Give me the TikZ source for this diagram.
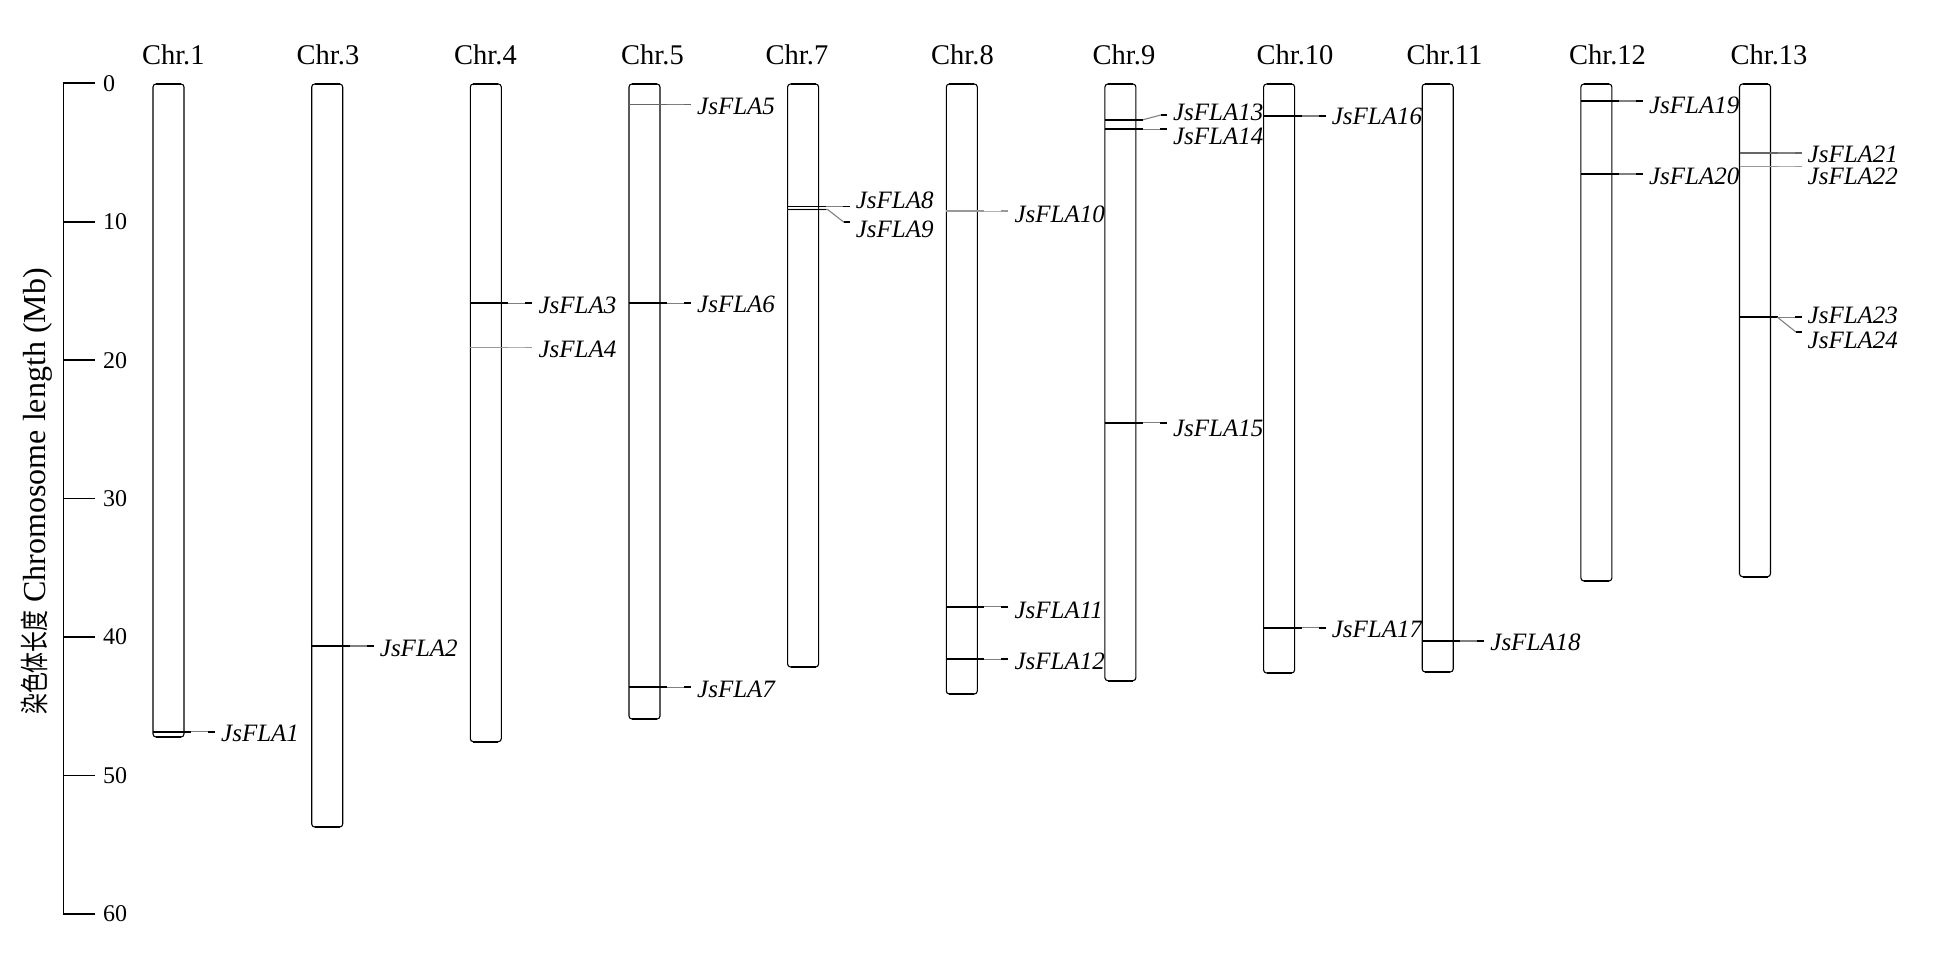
\documentclass[tikz,border=0pt]{standalone}
\usepackage{fontspec}
\setmainfont{Liberation Serif}
\newfontfamily\cjk{Noto Sans CJK SC}
\newcommand\chrom[5]{%
  \node[chr, minimum height=#3pt] (#1) at (#2,84) {};
  \draw[line width=2.2pt] ([xshift=3pt]#1.north west) -- ([xshift=-3pt]#1.north east);
  \draw[line width=2.2pt] ([xshift=3pt]#1.south west) -- ([xshift=-3pt]#1.south east);
  \node[chrlab] (#1t) at (#4,65) {#5};
}
\newcommand\genemark[7]{%
  \coordinate (#1s) at (#2,#3);
  \coordinate (#1e) at (#2+62,#3);
  \draw[#7] (#1s) -- (#1e);
  \draw[#6] (#1s) -- ++(38,0);
  \draw[#6] (#1e) -- ++(-7,0);
  \node[glabel] (#1) at (#2+68,#4) {#5};
}
\begin{document}
\begin{tikzpicture}[x=1pt,y=-1pt,
  chr/.style={draw=black, line width=1.1pt, rounded corners=3pt, inner sep=0pt, outer sep=0pt, minimum width=31pt, anchor=north west},
  chrlab/.style={anchor=base, inner sep=0pt, font=\fontsize{28.5}{30}\selectfont},
  glabel/.style={anchor=west, inner sep=0pt, font=\fontsize{25}{27}\selectfont\itshape},
  ticklab/.style={anchor=west, inner sep=0pt, font=\fontsize{24}{26}\selectfont},
  dk/.style={black, line width=1.8pt},
  dkt/.style={black, line width=1.3pt},
  md/.style={black!60, line width=1.4pt},
  lt/.style={black!40, line width=1.1pt},
  cn/.style={black!50, line width=1.1pt},
  cnl/.style={black!30, line width=1pt},
]
\useasboundingbox (0,0) rectangle (1933,966);

% axis
\coordinate (a0) at (63.3,83.3);
\coordinate (a60) at (63.3,914);
\draw[line width=1.1pt] (a0) -- (a60);
\foreach \k in {0,...,6} {
  \draw[line width=1.6pt] (63.3,83.3+138.45*\k) -- ++(31.7,0);
  \node[ticklab] (t\k) at (103,83.3+138.45*\k) {\the\numexpr\k*10\relax};
}
\node[rotate=90, anchor=base west, inner sep=0pt, font=\fontsize{32}{34}\selectfont] (ytitle) at (45,715)
  {\scalebox{0.72}[1]{\cjk\fontsize{29}{31}\selectfont 染色体长度} Chromosome length (Mb)};

% chromosomes
\chrom{c1}{153}{653}{173.3}{Chr.1}
\chrom{c3}{311.7}{743}{328}{Chr.3}
\chrom{c4}{470.3}{657.7}{485.5}{Chr.4}
\chrom{c5}{629}{635}{652.5}{Chr.5}
\chrom{c7}{787.6}{583}{797}{Chr.7}
\chrom{c8}{946.3}{610}{962.5}{Chr.8}
\chrom{c9}{1104.9}{596.7}{1124}{Chr.9}
\chrom{c10}{1263.6}{589}{1295}{Chr.10}
\chrom{c11}{1422.2}{588}{1444.5}{Chr.11}
\chrom{c12}{1580.9}{497}{1607.5}{Chr.12}
\chrom{c13}{1739.5}{492.7}{1769}{Chr.13}

% genes
\genemark{g1}{153}{731.7}{733.3}{JsFLA1}{dk}{cn}
\genemark{g2}{311.7}{646}{648.3}{JsFLA2}{dk}{cn}
\genemark{g3}{470.3}{303.3}{305}{JsFLA3}{dk}{cn}
\genemark{g4}{470.3}{347.3}{349.3}{JsFLA4}{lt}{cnl}
\genemark{g5}{629}{104.3}{106.7}{JsFLA5}{md}{cn}
\genemark{g6}{629}{303.3}{304}{JsFLA6}{dk}{cn}
\genemark{g7}{629}{687.3}{689.3}{JsFLA7}{dk}{cn}
\genemark{g8}{787.6}{206.7}{200.7}{JsFLA8}{dkt}{cn}
% JsFLA9
\coordinate (g9s) at (787.6,209.5);
\coordinate (g9e) at (787.6+62,222);
\draw[cn] (g9s) -- ++(40,0) -- (787.6+56,222) -- (g9e);
\draw[dkt] (g9s) -- ++(38,0);
\draw[dkt] (g9e) -- ++(-6,0);
\node[glabel] (g9) at (787.6+68,229) {JsFLA9};
\genemark{g10}{946.3}{211}{214}{JsFLA10}{lt}{cnl}
\genemark{g11}{946.3}{606.7}{610}{JsFLA11}{dk}{cn}
\genemark{g12}{946.3}{659.3}{661.7}{JsFLA12}{dk}{cn}
% JsFLA13
\coordinate (g13s) at (1104.9,120);
\coordinate (g13e) at (1104.9+62,115);
\draw[cn] (g13s) -- ++(37,0) -- (1104.9+56,115) -- (g13e);
\draw[dk] (g13s) -- ++(38,0);
\draw[dk] (g13e) -- ++(-6,0);
\node[glabel] (g13) at (1104.9+68,112) {JsFLA13};
\genemark{g14}{1104.9}{129.3}{136.7}{JsFLA14}{dk}{cn}
\genemark{g15}{1104.9}{422.7}{428.3}{JsFLA15}{dk}{cn}
\genemark{g16}{1263.6}{116}{116}{JsFLA16}{dk}{cn}
\genemark{g17}{1263.6}{627.7}{629.3}{JsFLA17}{dk}{cn}
\genemark{g18}{1422.2}{641}{642.7}{JsFLA18}{dk}{cn}
\genemark{g19}{1580.9}{101}{105}{JsFLA19}{dk}{cn}
\genemark{g20}{1580.9}{174}{176.7}{JsFLA20}{dk}{cn}
\genemark{g21}{1739.5}{153}{154}{JsFLA21}{md}{cn}
\genemark{g22}{1739.5}{166.7}{176.7}{JsFLA22}{lt}{cnl}
\genemark{g23}{1739.5}{317.3}{315.7}{JsFLA23}{dk}{cn}
% JsFLA24
\coordinate (g24s) at (1739.5+38,317.3);
\coordinate (g24e) at (1739.5+62,331.7);
\draw[cn] (g24s) -- (1739.5+56,331.7) -- (g24e);
\draw[dk] (g24e) -- ++(-6,0);
\node[glabel] (g24) at (1739.5+68,340.7) {JsFLA24};
\end{tikzpicture}
\end{document}
